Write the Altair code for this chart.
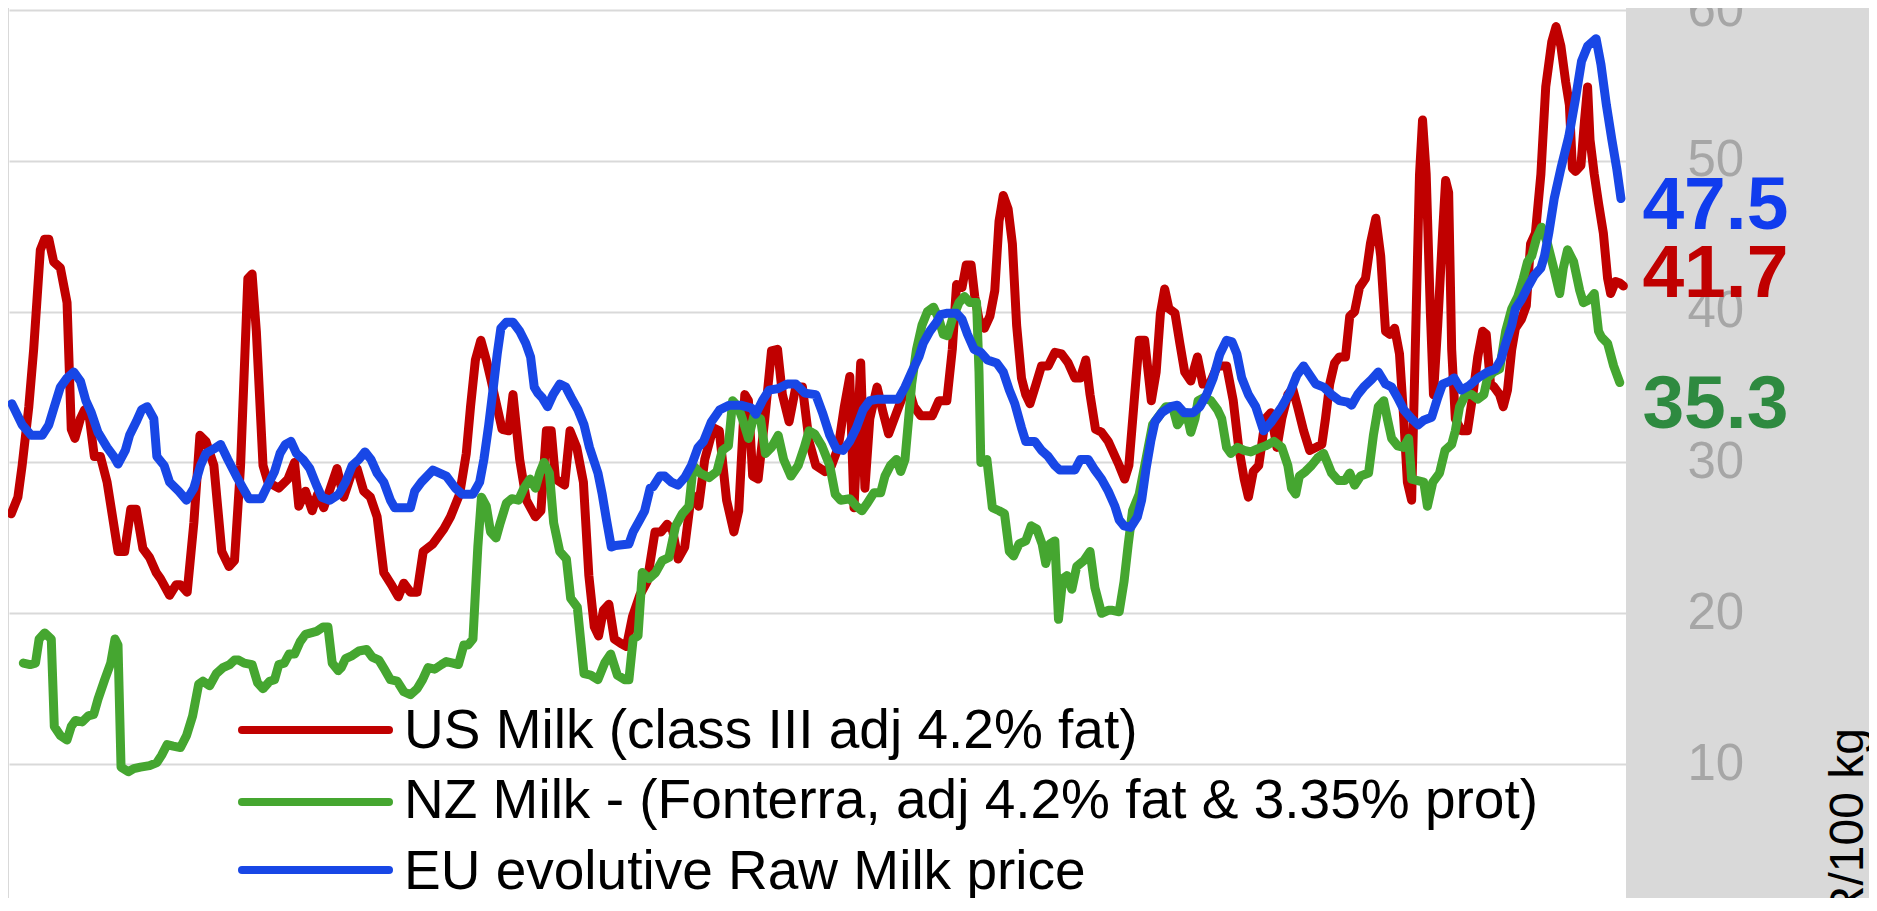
import altair as alt
import pandas as pd

# ---------------- data (month index 0 = first month shown, values in EUR/100 kg) ----------------
series_names = [
    "US Milk (class III adj 4.2% fat)",
    "NZ Milk - (Fonterra, adj 4.2% fat & 3.35% prot)",
    "EU evolutive Raw Milk price",
]

us_month = [0.2, 1.3, 2.0, 3.1, 3.9, 5.0, 5.7, 6.4, 7.2, 8.3, 9.4, 10.1, 10.7, 11.6, 12.3, 13.1, 13.9, 14.9, 16.0, 17.8,
            18.9, 19.9, 20.8, 21.9, 23.0, 24.1, 24.8, 26.3, 27.4, 28.1, 29.2, 30.3, 31.3, 32.3, 33.6, 34.9, 36.1, 37.0, 38.0, 39.2,
            39.9, 40.6, 41.7, 42.5, 44.3, 45.8, 46.9, 47.6, 48.7, 49.8, 50.7, 51.7, 52.8, 53.9, 55.0, 56.4, 57.2, 58.3, 59.4, 60.5,
            61.6, 63.0, 64.0, 64.9, 66.0, 67.1, 68.1, 69.7, 71.5, 72.6, 74.1, 75.2, 75.9, 76.7, 77.6, 78.5, 79.2, 81.1, 82.2, 82.9,
            84.0, 85.1, 86.6, 87.5, 88.4, 89.2, 89.9, 91.4, 92.3, 93.4, 94.5, 95.4, 96.3, 97.0, 97.8, 98.7, 99.6, 100.7, 101.6, 102.6,
            103.8, 105.0, 106.3, 107.3, 108.3, 109.2, 110.1, 111.2, 112.3, 113.0, 113.5, 114.5, 115.9, 116.9, 118.1, 119.3, 120.1, 121.1, 121.7, 122.4,
            123.3, 124.4, 125.5, 126.5, 127.3, 128.4, 129.5, 130.6, 131.7, 132.8, 134.3, 135.4, 136.5, 137.5, 138.4, 139.1, 140.2, 140.9, 141.7, 142.9,
            143.9, 144.8, 146.1, 147.9, 149.0, 150.1, 152.0, 153.1, 154.4, 155.3, 156.0, 156.9, 157.6, 158.4, 159.0, 159.7, 160.6, 161.5, 162.3, 163.0,
            163.7, 164.5, 165.2, 165.9, 166.7, 167.4, 168.1, 169.1, 170.0, 171.1, 172.2, 173.3, 174.4, 175.5, 176.4, 177.3, 178.0, 178.9, 179.9, 181.0,
            182.8, 183.7, 184.4, 185.2, 186.1, 187.0, 188.1, 188.9, 189.6, 190.3, 191.0, 192.0, 192.8, 193.6, 194.6, 195.7, 196.6, 197.7, 199.0, 200.5,
            201.6, 202.5, 203.4, 204.1, 204.9, 205.8, 206.9, 207.8, 208.8, 209.6, 210.6, 211.4, 212.2, 213.2, 214.2, 215.2, 216.2, 216.8, 217.5, 218.3,
            219.1, 220.1, 220.8, 221.6, 222.4, 223.4, 224.2, 225.1, 225.9, 226.7, 227.4, 228.2, 229.0, 229.7, 230.3, 231.0, 231.6, 232.3, 232.8, 233.4,
            234.1, 234.6, 235.3, 236.1, 236.6, 237.1, 237.6, 238.2, 239.2, 240.2, 241.1, 241.9, 242.7, 243.3, 244.0, 244.6, 245.5, 246.1, 246.8, 247.5,
            248.1, 249.1, 249.9, 250.6, 251.4, 252.3, 253.1, 254.1, 254.8, 255.6, 256.4, 257.0, 257.5, 258.0, 258.9, 259.5, 260.0, 260.4, 261.1, 261.8,
            262.6, 263.3, 263.8, 264.6, 265.3, 265.9]
us_value = [26.6, 27.7, 29.8, 33.7, 37.5, 44.1, 44.8, 44.8, 43.3, 42.9, 40.6, 32.2, 31.6, 32.9, 33.5, 32.9, 30.4, 30.4, 28.7, 24.1,
            24.1, 26.9, 26.9, 24.3, 23.7, 22.7, 22.3, 21.2, 21.9, 21.9, 21.4, 26.0, 31.8, 31.4, 29.8, 24.1, 23.1, 23.5, 29.8, 42.2,
            42.5, 38.7, 29.8, 28.7, 28.3, 28.9, 30.0, 27.1, 28.1, 26.8, 27.9, 27.0, 28.3, 29.6, 27.7, 29.4, 29.6, 28.1, 27.7, 26.4,
            22.7, 21.8, 21.1, 22.0, 21.4, 21.4, 24.1, 24.6, 25.6, 26.4, 27.9, 30.6, 33.7, 36.8, 38.1, 36.8, 35.6, 32.2, 32.1, 34.5,
            30.2, 27.5, 26.4, 26.8, 32.1, 32.1, 28.9, 28.5, 32.1, 31.0, 28.7, 22.5, 19.1, 18.5, 20.2, 20.6, 18.3, 18.0, 17.8, 19.8,
            21.2, 22.1, 25.4, 25.4, 25.9, 25.5, 23.6, 24.4, 27.9, 27.5, 27.1, 30.2, 32.3, 32.1, 27.5, 25.4, 26.8, 34.5, 34.1, 29.1,
            28.9, 32.9, 37.4, 37.5, 34.5, 32.7, 35.0, 35.0, 31.4, 29.8, 29.4, 29.8, 31.0, 33.7, 35.7, 27.0, 36.6, 28.3, 32.9, 35.0,
            33.3, 31.9, 33.3, 35.2, 33.7, 33.1, 33.1, 34.1, 34.1, 37.5, 41.8, 41.6, 43.1, 43.1, 41.0, 39.5, 38.9, 39.7, 41.4, 46.0,
            47.7, 46.8, 44.5, 39.1, 35.6, 34.5, 33.9, 35.2, 36.4, 36.4, 37.3, 37.2, 36.6, 35.6, 35.6, 36.8, 34.5, 32.2, 32.0, 31.4,
            29.8, 28.9, 29.8, 33.7, 38.1, 38.1, 34.1, 36.0, 39.9, 41.5, 40.2, 39.9, 37.9, 36.0, 35.4, 37.0, 35.2, 35.2, 36.4, 36.4,
            34.1, 31.0, 28.9, 27.7, 29.4, 29.8, 32.9, 33.3, 31.0, 32.9, 34.5, 34.9, 33.7, 32.1, 30.8, 31.0, 31.2, 32.9, 35.2, 36.6,
            37.0, 37.0, 39.7, 40.0, 41.6, 42.2, 44.5, 46.2, 43.7, 38.7, 38.5, 38.9, 37.2, 32.9, 28.7, 27.5, 37.5, 49.1, 52.7, 49.1,
            39.8, 34.5, 39.1, 45.2, 48.7, 47.9, 37.5, 32.9, 32.1, 32.1, 34.5, 37.0, 38.7, 38.5, 35.2, 35.0, 34.5, 33.7, 34.8, 37.5,
            38.9, 39.5, 40.4, 44.5, 45.2, 49.1, 54.9, 57.9, 58.9, 57.6, 55.2, 53.7, 49.5, 49.3, 49.7, 52.7, 54.9, 51.4, 49.1, 47.2,
            45.2, 42.2, 41.2, 42.0, 41.9, 41.7]

nz_month = [2.2, 3.3, 4.2, 4.8, 5.7, 6.8, 7.3, 8.3, 9.4, 10.1, 10.8, 11.9, 12.9, 13.8, 14.5, 15.6, 16.6, 17.3, 17.8, 18.3,
            19.5, 20.4, 21.5, 23.0, 24.2, 25.0, 25.9, 26.9, 28.1, 29.1, 30.1, 31.1, 31.8, 32.9, 34.0, 35.1, 36.2, 37.0, 37.7, 38.6,
            39.9, 40.8, 41.7, 42.8, 43.6, 44.3, 45.2, 46.0, 46.9, 47.8, 48.7, 50.5, 51.6, 52.4, 53.1, 54.1, 54.6, 55.3, 56.4, 57.5,
            58.8, 59.7, 60.8, 61.7, 62.7, 63.8, 64.9, 66.0, 67.1, 68.0, 68.9, 70.0, 71.1, 71.9, 73.0, 73.9, 74.8, 75.5, 76.3, 77.1,
            77.7, 78.5, 79.2, 80.1, 80.8, 81.8, 82.7, 83.8, 84.7, 85.7, 86.6, 87.3, 88.0, 88.9, 89.6, 90.6, 91.7, 92.4, 93.5, 94.6,
            95.7, 96.9, 98.0, 99.0, 100.1, 101.3, 102.0, 102.7, 103.5, 104.2, 105.3, 106.4, 107.5, 108.6, 109.7, 110.8, 111.9, 112.6, 113.7, 115.2,
            116.5, 117.4, 118.4, 119.1, 120.0, 120.7, 121.7, 122.6, 123.7, 124.5, 125.5, 126.6, 127.5, 128.7, 129.9, 130.9, 131.7, 132.6, 133.8, 135.1,
            136.0, 136.9, 138.4, 139.5, 140.4, 141.3, 142.4, 143.5, 144.2, 145.1, 146.1, 146.8, 147.5, 148.1, 148.6, 149.4, 150.3, 151.2, 152.2, 153.1,
            153.8, 154.5, 155.3, 156.4, 157.3, 158.2, 159.3, 159.7, 160.0, 161.0, 161.9, 163.0, 163.9, 164.7, 165.4, 166.3, 167.4, 168.3, 169.2, 170.1,
            170.7, 171.4, 172.2, 172.8, 173.5, 174.2, 175.0, 175.8, 177.0, 178.0, 178.8, 179.9, 181.0, 181.7, 182.8, 183.6, 184.3, 185.0, 186.1, 187.2,
            188.3, 189.4, 190.5, 191.6, 192.4, 193.1, 193.9, 194.6, 195.3, 195.8, 196.8, 197.9, 199.0, 199.7, 200.5, 201.2, 202.3, 203.4, 204.5, 205.6,
            206.9, 208.3, 209.6, 210.6, 211.2, 211.9, 212.5, 213.5, 214.5, 215.5, 216.5, 217.1, 217.8, 218.9, 220.0, 220.8, 221.6, 222.6, 223.9, 224.7,
            225.5, 226.4, 227.0, 227.7, 228.7, 229.7, 230.5, 231.0, 232.0, 233.0, 233.6, 234.5, 235.6, 236.5, 237.6, 238.2, 238.9, 239.9, 240.9, 241.9,
            242.9, 243.5, 244.5, 245.5, 246.5, 247.5, 248.5, 249.4, 250.1, 250.8, 251.6, 252.4, 253.4, 254.4, 255.4, 256.0, 256.7, 257.7, 258.7, 259.3,
            260.3, 261.1, 261.8, 262.3, 263.3, 264.3, 265.3]
nz_value = [16.7, 16.6, 16.7, 18.3, 18.7, 18.3, 12.5, 11.9, 11.6, 12.5, 12.9, 12.8, 13.2, 13.3, 14.3, 15.6, 16.7, 18.3, 17.9, 9.8,
            9.5, 9.7, 9.8, 9.9, 10.1, 10.6, 11.3, 11.2, 11.1, 11.9, 13.2, 15.3, 15.5, 15.2, 16.0, 16.4, 16.6, 16.9, 16.9, 16.7,
            16.6, 15.4, 15.0, 15.5, 15.6, 16.6, 16.7, 17.3, 17.3, 18.1, 18.6, 18.8, 19.1, 19.1, 16.7, 16.2, 16.4, 17.0, 17.2, 17.5,
            17.6, 17.1, 16.9, 16.3, 15.6, 15.5, 14.8, 14.6, 15.0, 15.6, 16.4, 16.3, 16.6, 16.8, 16.7, 16.6, 17.9, 17.9, 18.3, 24.4,
            27.7, 27.1, 25.4, 25.0, 26.0, 27.3, 27.6, 27.5, 28.3, 28.9, 28.3, 29.3, 30.0, 29.3, 26.0, 24.1, 23.6, 21.0, 20.4, 16.0,
            15.9, 15.6, 16.7, 17.3, 15.9, 15.6, 15.6, 18.3, 18.5, 22.7, 22.3, 22.7, 23.5, 23.7, 25.8, 26.6, 27.1, 29.8, 29.3, 29.0,
            29.4, 30.8, 31.1, 34.1, 33.7, 32.9, 31.6, 33.1, 32.9, 30.6, 31.0, 31.8, 30.2, 29.1, 29.8, 31.0, 32.1, 31.9, 31.1, 29.8,
            27.9, 27.5, 27.6, 27.1, 26.8, 27.3, 28.0, 28.0, 29.1, 29.8, 30.2, 29.4, 30.2, 32.9, 35.2, 37.5, 39.1, 40.0, 40.3, 39.5,
            38.5, 38.4, 39.5, 40.6, 41.0, 40.6, 40.6, 36.0, 30.0, 30.2, 27.0, 26.8, 26.6, 24.1, 23.8, 24.6, 24.8, 25.8, 25.6, 24.6,
            23.3, 24.6, 24.8, 19.6, 22.3, 22.5, 21.6, 23.1, 23.5, 24.1, 21.7, 20.0, 20.2, 20.2, 20.1, 22.1, 24.6, 26.8, 27.9, 30.2,
            32.5, 33.1, 33.7, 33.7, 32.5, 32.9, 33.3, 32.0, 32.9, 34.1, 34.3, 34.1, 33.5, 32.9, 31.0, 30.6, 31.0, 30.8, 30.7, 30.9,
            31.1, 31.4, 31.0, 29.8, 28.3, 27.9, 29.1, 29.4, 29.8, 30.3, 30.6, 30.0, 29.3, 28.8, 28.8, 29.3, 28.5, 29.1, 29.3, 31.8,
            33.7, 34.1, 32.9, 31.6, 31.1, 31.0, 31.6, 28.9, 28.8, 28.7, 27.1, 28.7, 29.3, 30.8, 31.2, 32.1, 33.7, 34.5, 34.5, 34.2,
            34.5, 35.6, 36.0, 36.2, 38.7, 40.2, 41.0, 42.2, 43.3, 43.7, 44.9, 45.6, 44.5, 42.9, 41.2, 42.9, 44.1, 43.3, 41.4, 40.6,
            40.8, 41.2, 38.7, 38.3, 37.9, 36.4, 35.3]

eu_month = [0.3, 2.0, 3.5, 5.3, 6.4, 7.3, 8.3, 9.4, 10.5, 11.6, 12.5, 13.4, 14.5, 16.0, 17.1, 17.8, 19.0, 19.7, 20.8, 21.7,
            22.6, 23.7, 24.2, 25.4, 26.3, 27.8, 29.1, 30.3, 31.4, 32.3, 33.6, 34.7, 35.9, 37.3, 38.4, 39.4, 41.4, 42.5, 43.6, 44.5,
            45.4, 46.3, 47.2, 48.3, 49.4, 50.5, 51.4, 52.7, 54.2, 55.3, 56.4, 57.5, 58.5, 59.5, 60.5, 61.6, 62.7, 63.4, 66.0, 66.7,
            67.8, 69.7, 70.8, 71.9, 73.4, 74.5, 76.3, 77.4, 78.1, 78.9, 79.6, 80.3, 80.9, 81.8, 82.9, 84.0, 85.0, 85.8, 86.4, 87.0,
            87.7, 88.6, 89.5, 90.6, 91.6, 92.5, 93.6, 94.6, 95.5, 96.9, 97.6, 98.3, 99.1, 99.8, 102.0, 102.7, 103.8, 104.6, 105.5, 106.0,
            107.1, 107.9, 109.0, 110.1, 111.2, 112.3, 113.4, 114.3, 115.6, 117.0, 118.5, 120.4, 122.2, 122.9, 124.0, 125.1, 126.6, 128.1, 129.5, 131.0,
            132.8, 133.9, 135.1, 136.2, 137.3, 138.4, 139.5, 140.6, 141.7, 143.1, 146.4, 147.5, 148.6, 149.8, 150.5, 151.6, 152.7, 153.4, 154.5, 156.0,
            156.9, 157.8, 158.9, 160.0, 161.1, 162.6, 163.7, 164.7, 165.6, 166.7, 167.4, 168.9, 170.0, 171.1, 172.2, 173.0, 175.5, 176.4, 177.7, 178.8,
            179.9, 181.0, 182.1, 182.8, 183.6, 184.7, 185.8, 186.5, 187.2, 188.0, 188.7, 189.8, 191.3, 192.4, 193.5, 195.0, 196.1, 197.2, 198.3, 199.4,
            200.5, 201.4, 202.2, 203.0, 204.1, 205.3, 206.6, 207.9, 209.6, 210.9, 212.1, 213.2, 214.2, 215.2, 216.5, 217.8, 219.1, 220.4, 221.1, 222.1,
            223.1, 224.4, 225.5, 226.7, 227.7, 228.7, 229.7, 231.0, 232.1, 233.0, 234.3, 235.3, 236.1, 237.3, 238.0, 239.2, 240.5, 241.9, 243.5, 244.8,
            245.7, 246.5, 247.5, 248.1, 249.1, 250.1, 251.2, 252.3, 252.9, 253.6, 254.5, 255.6, 256.9, 258.0, 259.0, 260.0, 261.4, 262.2, 263.1, 264.0,
            264.8, 265.5]
eu_value = [33.9, 32.5, 31.8, 31.8, 32.5, 33.7, 35.0, 35.6, 36.0, 35.4, 34.1, 33.3, 32.0, 31.0, 30.4, 29.9, 30.8, 31.8, 32.7, 33.5,
            33.7, 32.9, 30.4, 29.8, 28.7, 28.1, 27.5, 28.3, 29.8, 30.6, 30.9, 31.2, 30.2, 29.1, 28.3, 27.6, 27.6, 28.5, 29.4, 30.6,
            31.2, 31.4, 30.6, 30.2, 29.6, 28.5, 27.7, 27.5, 27.9, 28.7, 29.8, 30.2, 30.7, 30.2, 29.3, 28.7, 27.5, 27.0, 27.0, 28.1,
            28.7, 29.5, 29.3, 29.1, 28.3, 27.9, 27.9, 28.7, 30.2, 32.5, 34.8, 37.2, 38.9, 39.3, 39.3, 38.7, 37.9, 37.0, 35.0, 34.6,
            34.3, 33.7, 34.5, 35.2, 35.0, 34.3, 33.5, 32.5, 31.0, 29.3, 27.9, 26.2, 24.4, 24.5, 24.6, 25.4, 26.2, 26.8, 28.3, 28.4,
            29.1, 29.1, 28.7, 28.5, 29.0, 29.8, 31.0, 31.4, 32.7, 33.5, 33.8, 33.8, 33.6, 33.2, 34.1, 34.8, 34.9, 35.2, 35.2, 34.6,
            34.5, 33.3, 31.8, 30.9, 30.8, 31.4, 32.3, 33.5, 34.1, 34.2, 34.2, 35.0, 36.0, 37.0, 37.9, 38.7, 39.3, 39.8, 39.9, 39.9,
            39.5, 38.5, 37.5, 37.3, 36.8, 36.6, 36.0, 34.8, 33.9, 32.3, 31.4, 31.4, 30.8, 30.4, 29.8, 29.5, 29.5, 30.2, 30.2, 29.5,
            28.9, 28.1, 27.1, 26.2, 25.8, 25.7, 26.4, 27.5, 29.5, 31.4, 32.7, 33.3, 33.7, 33.8, 33.3, 33.3, 33.7, 34.5, 35.6, 37.2,
            38.1, 38.0, 37.2, 35.6, 34.5, 33.7, 32.1, 32.7, 33.7, 34.6, 35.8, 36.4, 35.8, 35.2, 35.0, 34.5, 34.1, 34.0, 33.8, 34.5,
            35.0, 35.5, 36.0, 35.2, 35.0, 34.3, 33.5, 32.9, 32.5, 32.8, 33.0, 34.3, 35.2, 35.4, 35.6, 34.8, 35.1, 35.6, 36.0, 36.2,
            36.8, 37.9, 39.1, 40.2, 40.8, 41.6, 42.4, 42.9, 43.7, 45.2, 47.5, 49.5, 51.6, 54.1, 56.6, 57.6, 58.1, 56.4, 53.7, 51.4,
            49.5, 47.5]

axis_values = [0, 10, 20, 30, 40, 50, 60]

# ---------------- styles ----------------
line_colors = ["#c00000", "#45a630", "#1847e6"]
label_colors = ["#c00000", "#2e8a40", "#103cee"]
label_dy = [11, 45, 30]          # vertical nudges for end-value labels (px)
legend_line_y = [722, 794, 862]  # legend rows (px inside plot)
legend_text_y = [740, 810, 881]

W, H = 1617, 890
SVG_W = 1861
x_scale = alt.Scale(domain=[-0.165, 266.33], nice=False, zero=False)
y_scale = alt.Scale(domain=[60.133 - H / 15.083, 60.133], nice=False, zero=False)

y_axis = alt.Axis(
    orient="right", values=axis_values, grid=True, gridColor="#d9d9d9", gridWidth=2,
    ticks=False, tickSize=0, domain=False, labelFont="Liberation Sans", labelFontSize=51,
    labelColor="#a6a6a6", labelPadding=61, labelBaseline="middle",
    title="EUR/100 kg", titleFont="Liberation Sans", titleFontSize=48, titleFontWeight="normal",
    titleColor="#000000", titleAngle=270, titleAlign="center", titleBaseline="alphabetic",
    titleX=236, titleY=849,
)

months = [us_month, nz_month, eu_month]
values = [us_value, nz_value, eu_value]

layers = []
for i in range(3):
    df = pd.DataFrame({"month": months[i], "value": values[i]})
    layers.append(
        alt.Chart(df).mark_line(color=line_colors[i], strokeWidth=9, strokeCap="round", strokeJoin="round")
        .encode(x=alt.X("month:Q", scale=x_scale, axis=None),
                y=alt.Y("value:Q", scale=y_scale, axis=y_axis))
    )

# end-value labels
last_month = max(m[-1] for m in months)
for i in range(3):
    ldf = pd.DataFrame({"month": [last_month], "value": [values[i][-1]],
                        "txt": [f"{values[i][-1]:.1f}"]})
    layers.append(
        alt.Chart(ldf).mark_text(align="left", baseline="alphabetic", dx=19, dy=label_dy[i],
                                 font="Liberation Sans", fontSize=75, fontWeight="bold",
                                 color=label_colors[i])
        .encode(x=alt.X("month:Q", scale=x_scale, axis=None),
                y=alt.Y("value:Q", scale=y_scale, axis=y_axis),
                text="txt:N")
    )

# manual legend
one = pd.DataFrame({"k": [0]})
for i in range(3):
    layers.append(
        alt.Chart(one).mark_rule(color=line_colors[i], strokeWidth=8, strokeCap="round")
        .encode(x=alt.value(233), x2=alt.value(380), y=alt.value(legend_line_y[i]))
    )
    layers.append(
        alt.Chart(one).mark_text(align="left", baseline="alphabetic", font="Liberation Sans",
                                 fontSize=55, color="#000000", text=series_names[i])
        .encode(x=alt.value(395), y=alt.value(legend_text_y[i]))
    )

chart = alt.layer(*layers).properties(
    width=W, height=H,
    autosize=alt.AutoSizeParams(type="none"),
    padding={"left": 1, "top": 0, "right": SVG_W - 1 - W, "bottom": 0},
    background="#d9d9d9",
).configure_view(fill="white", strokeWidth=0)

chart.save("out.html", embed_options={"renderer": "svg", "actions": False})
